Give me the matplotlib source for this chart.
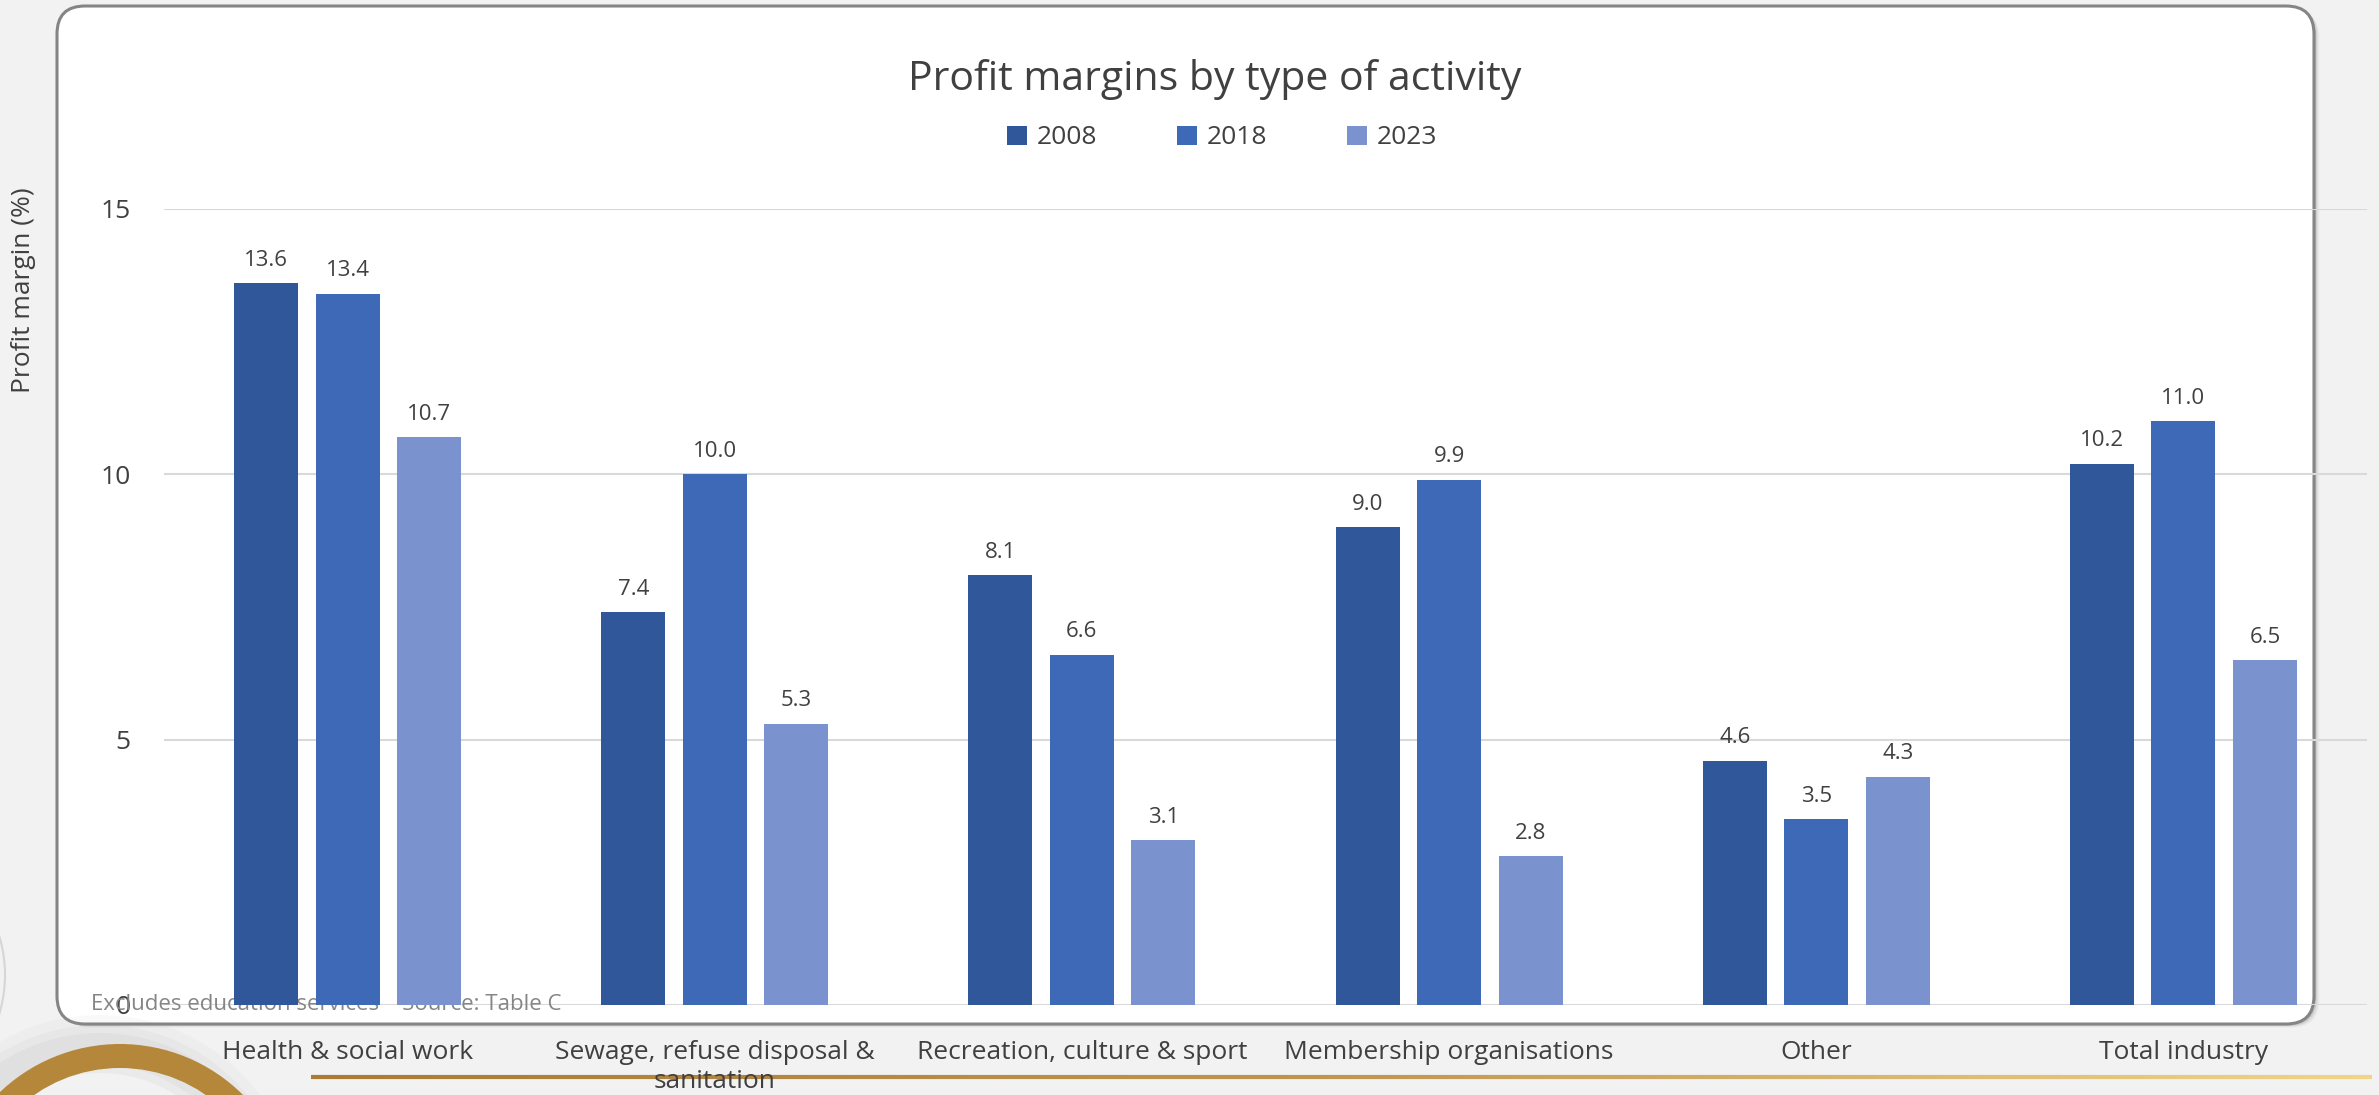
"""
Profit margins by type of activity, 2008 / 2018 / 2023 grouped bars
drawn on a rounded white card over a light gray slide background.
"""

import matplotlib
matplotlib.use('Agg')
import matplotlib.pyplot as plt
from matplotlib.patches import FancyBboxPatch, Wedge, Arc, Patch
from matplotlib.collections import LineCollection
import matplotlib.colors as mcolors
import numpy as np

plt.rcParams['font.family'] = ['Open Sans', 'DejaVu Sans']

# ---- data ----
categories = ['Health & social work', 'Sewage, refuse disposal &\nsanitation',
              'Recreation, culture & sport', 'Membership organisations',
              'Other', 'Total industry']
years = ['2008', '2018', '2023']
margin_2008 = [13.6, 7.4, 8.1, 9.0, 4.6, 10.2]
margin_2018 = [13.4, 10.0, 6.6, 9.9, 3.5, 11.0]
margin_2023 = [10.7, 5.3, 3.1, 2.8, 4.3, 6.5]
y_ticks = [0, 5, 10, 15]

COLORS = {
    '2008': '#30579A',
    '2018': '#3E69B6',
    '2023': '#7A93CF',
    'text': '#404040',
    'note': '#858585',
    'grid': '#D9D9D9',
    'bg': '#F2F2F2',
    'gold': '#B5873A',
}

W, H = 2379, 1095
fig = plt.figure(figsize=(W / 100, H / 100), dpi=100, facecolor=COLORS['bg'])

# background layer in pixel coordinates (origin top-left)
bg = fig.add_axes([0, 0, 1, 1], zorder=0)
bg.set_xlim(0, W)
bg.set_ylim(H, 0)
bg.axis('off')

# card shadow + card
cx0, cy0, cx1, cy1 = 57, 6, 2314, 1024
for off, a in [(9, 0.05), (7, 0.08), (5, 0.12), (3, 0.18)]:
    bg.add_patch(FancyBboxPatch((cx0 + off * 0.6, cy0 + off * 0.4), cx1 - cx0, cy1 - cy0,
                                boxstyle="round,pad=0,rounding_size=28",
                                facecolor='#606060', edgecolor='none', alpha=a))
bg.add_patch(FancyBboxPatch((cx0, cy0), cx1 - cx0, cy1 - cy0,
                            boxstyle="round,pad=0,rounding_size=28",
                            facecolor='white', edgecolor='#858585', lw=2.2))

# decorative gold ring with a soft shadow, bottom left
for r, a in [(200, 0.05), (190, 0.07), (182, 0.09)]:
    bg.add_patch(Wedge((100, 1215), r, 180, 360, width=40, facecolor='#9A9A9A',
                       edgecolor='none', alpha=a))
bg.add_patch(Wedge((120, 1218), 174, 180, 360, width=24, facecolor=COLORS['gold'],
                   edgecolor='none'))
bg.add_patch(Arc((-130, 975), 270, 270, theta1=-60, theta2=60, color='#D6D6D6', lw=1.5))

# gold rule under the category labels, fading to pale gold
xs = np.linspace(311, 2372, 200)
segs = [[(xs[i], 1077), (xs[i + 1], 1077)] for i in range(len(xs) - 1)]
cmap = mcolors.LinearSegmentedColormap.from_list('gold', ['#A97B35', '#BF9550', '#F0D48A'])
seg_colors = cmap(np.linspace(0, 1, len(segs)))
bg.add_collection(LineCollection(segs, colors=seg_colors, linewidths=3))

# ---- main chart ----
ax_left, ax_right = 164, 2367
ax_bottom, ax_top = 1005, 209
ax = fig.add_axes([ax_left / W, 1 - ax_bottom / H, (ax_right - ax_left) / W,
                   (ax_bottom - ax_top) / H], zorder=2)
ax.set_facecolor('none')

x = np.arange(len(categories))
bar_w = 0.174
step = 0.222
series = [margin_2008, margin_2018, margin_2023]
for i, (year, vals) in enumerate(zip(years, series)):
    bars = ax.bar(x + (i - 1) * step, vals, width=bar_w, color=COLORS[year],
                  zorder=3, label=year)
    ax.bar_label(bars, fmt='%.1f', padding=9, fontsize=16, color=COLORS['text'])

ax.set_xlim(-0.5, len(categories) - 0.5)
ax.set_ylim(0, 15)
ax.set_yticks(y_ticks)
ax.set_yticklabels([str(t) for t in y_ticks])
ax.yaxis.grid(True, color=COLORS['grid'], lw=1.5, zorder=0)
ax.set_axisbelow(True)
for s in ax.spines.values():
    s.set_visible(False)
ax.tick_params(axis='y', length=0, pad=24, labelsize=19, labelcolor=COLORS['text'])
ax.tick_params(axis='x', length=0, pad=25, labelsize=19, labelcolor=COLORS['text'])
ax.set_xticks(x)
ax.set_xticklabels(categories, linespacing=1.2)

# footnote sits behind the bars at the baseline
ax.text(91 / W, 1 - 1004 / H, 'Excludes education services    Source: Table C',
        transform=fig.transFigure, fontsize=16, color=COLORS['note'],
        ha='left', va='center', zorder=1)

fig.text(23 / W, 1 - 290 / H, 'Profit margin (%)', rotation=90, ha='center',
         va='center', fontsize=19, color=COLORS['text'])

fig.text(1215 / W, 1 - 79 / H, 'Profit margins by type of activity', ha='center',
         va='center', fontsize=29.5, color=COLORS['text'])

handles = [Patch(facecolor=COLORS[y], edgecolor='none', label=y) for y in years]
fig.legend(handles=handles, loc='center', bbox_to_anchor=(1222 / W, 1 - 138 / H),
           ncol=3, frameon=False, fontsize=19, handlelength=0.75, handleheight=0.75,
           handletextpad=0.35, columnspacing=3.05, labelcolor=COLORS['text'])

plt.savefig('out.png', dpi=100, facecolor=fig.get_facecolor())
plt.close()
